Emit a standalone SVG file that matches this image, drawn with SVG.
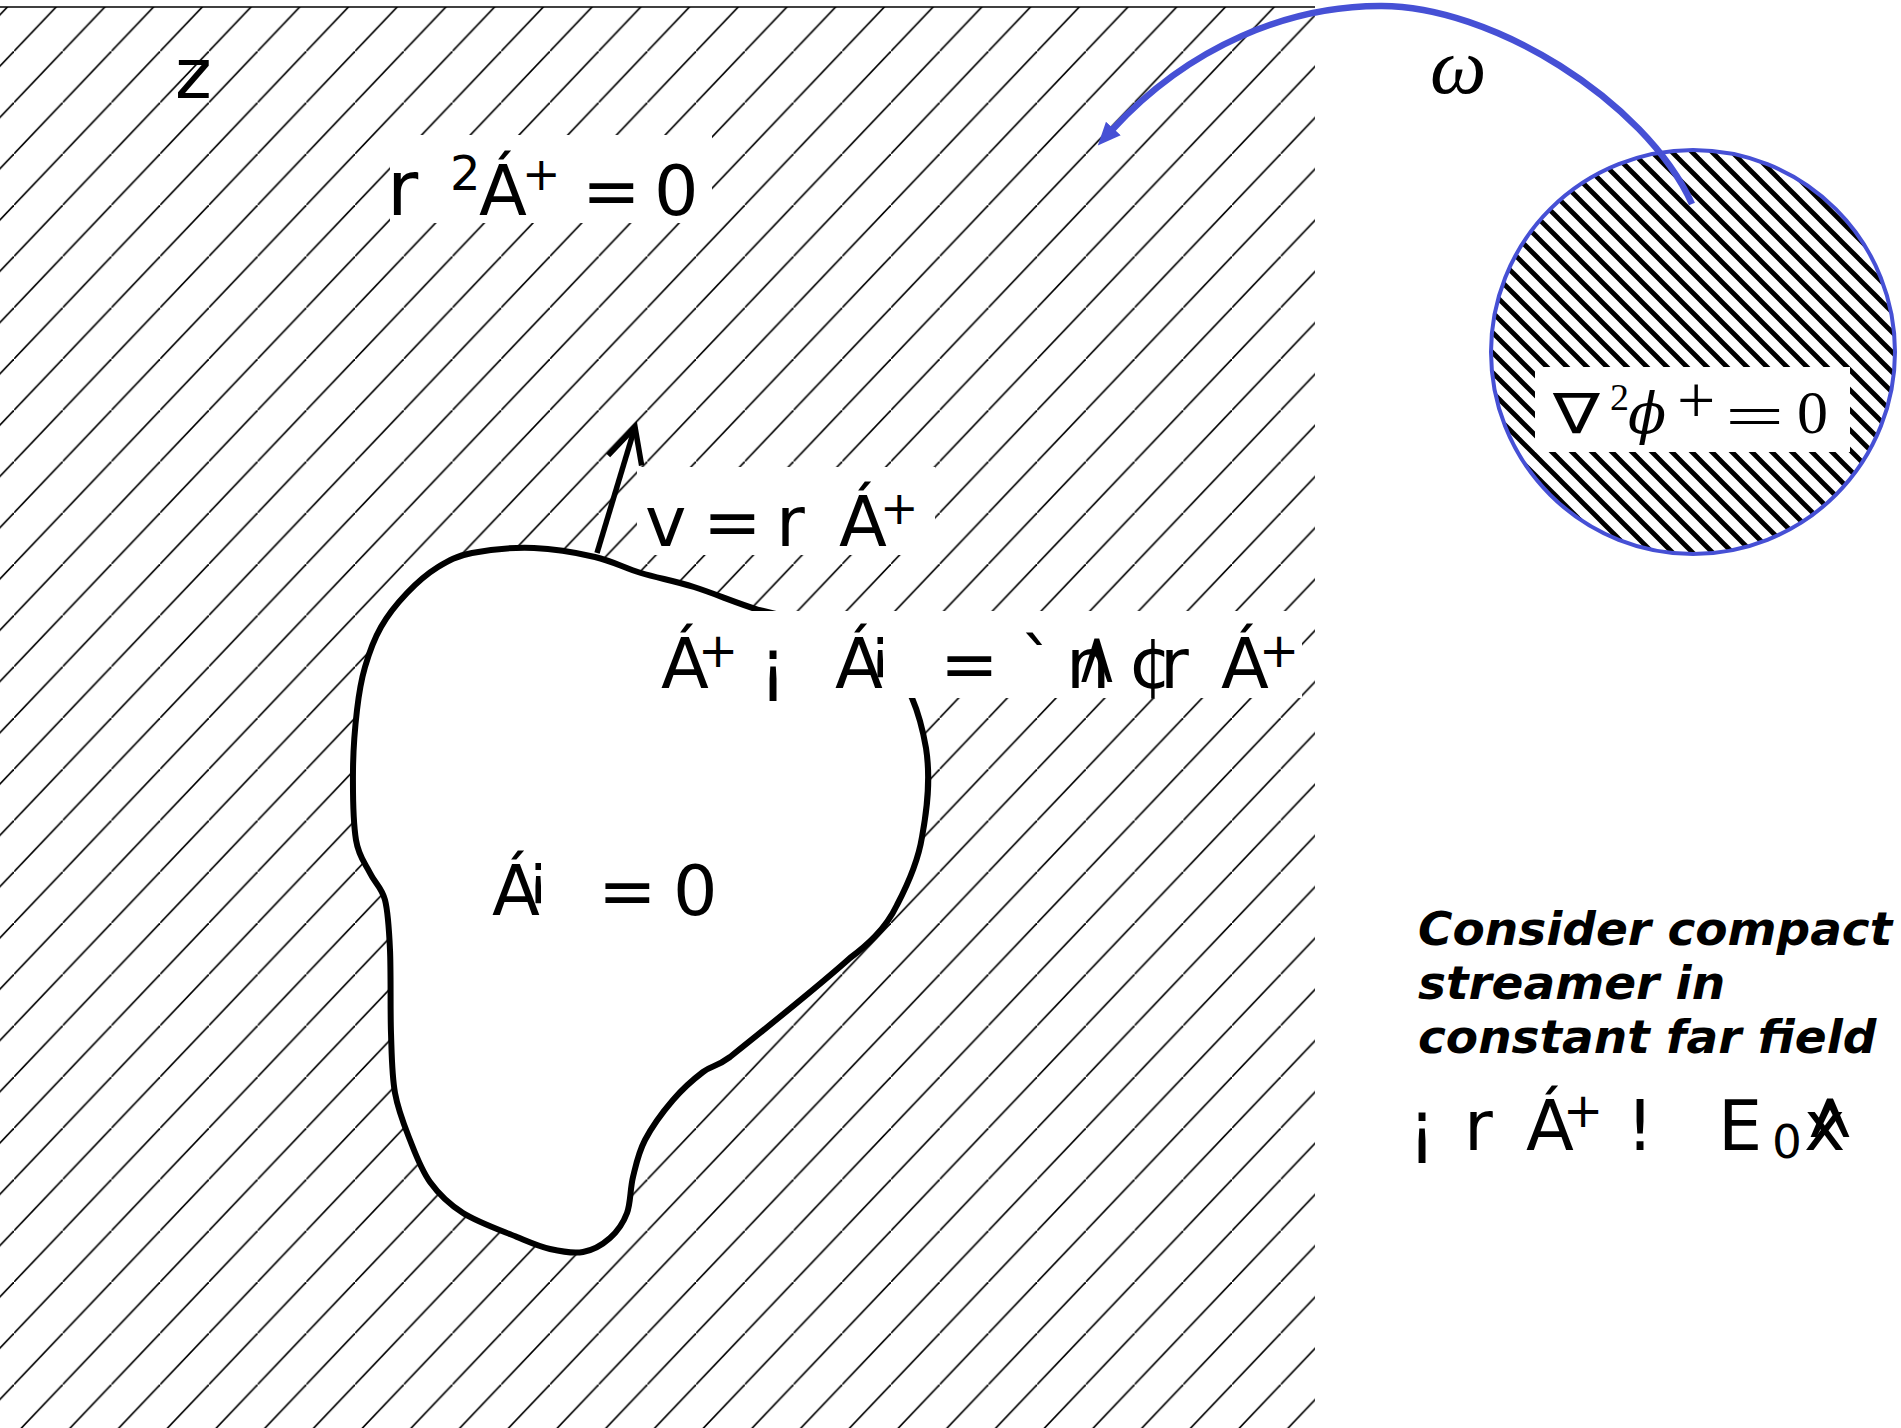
<svg xmlns="http://www.w3.org/2000/svg" width="1901" height="1428" viewBox="0 0 1901 1428">
<defs>
<style>
.m{font-family:"DejaVu Sans",Verdana,sans-serif;font-size:70px;fill:#000}
.cap{font-family:"DejaVu Sans",Verdana,sans-serif;font-weight:bold;font-style:italic;font-size:47px;fill:#000}
.ser{font-family:"Liberation Serif","DejaVu Serif",serif;fill:#000}
.box{fill:#fff;stroke:none}
.blob{fill:#fff;stroke:#000;stroke-width:6;stroke-linejoin:round}
.blue{fill:none;stroke:#4650d5;stroke-width:6.5}
.norm{fill:none;stroke:#000;stroke-width:5.5}
</style>
<pattern id="hatchMain" patternUnits="userSpaceOnUse" x="14" y="0" width="48.72" height="51.28">
<line x1="-24.36" y1="76.92" x2="73.08" y2="-25.64" stroke="#000" stroke-width="1.6"/>
</pattern>
<pattern id="hatchCircle" patternUnits="userSpaceOnUse" x="0" y="0" width="20" height="20">
<line x1="-10" y1="-10" x2="30" y2="30" stroke="#000" stroke-width="4.8"/>
<line x1="-30" y1="-10" x2="10" y2="30" stroke="#000" stroke-width="4.8"/>
<line x1="10" y1="-10" x2="50" y2="30" stroke="#000" stroke-width="4.8"/>
</pattern>
<marker id="arrowBlue" markerUnits="userSpaceOnUse" viewBox="0 0 24 22" markerWidth="24" markerHeight="22" refX="2" refY="11" orient="auto">
<path d="M0 1 L23 11 L0 21 z" fill="#4650d5"/>
</marker>
<marker id="arrowOpen" markerUnits="userSpaceOnUse" viewBox="-42 -22 50 44" markerWidth="50" markerHeight="44" refX="0" refY="0" orient="auto" overflow="visible">
<path d="M-35 -17.5 L0 0 L-35 17.5" fill="none" stroke="#000" stroke-width="5.5" stroke-linejoin="miter"/>
</marker>
</defs>
<rect x="0" y="0" width="1901" height="1428" fill="#fff"/>

<g id="field-region">
<rect x="0" y="7" width="1315" height="1421" fill="url(#hatchMain)"/>
<line x1="0" y1="7" x2="1315" y2="7" stroke="#000" stroke-width="1.6"/>
<text class="m" x="175" y="98" font-size="80">z</text>
</g>

<g id="streamer">
<path class="blob" d="M759 610 C738 603.7 713.7 593.2 694 587 C674.3 580.8 657.5 578 641 573 C624.5 568 612.8 561.2 595 557 C577.2 552.8 554.5 548.7 534 548 C513.5 547.3 488 549.8 472 553 C456 556.2 448.8 560.3 438 567 C427.2 573.7 416.5 583 407 593 C397.5 603 388 614.7 381 627 C374 639.3 369 653.2 365 667 C361 680.8 359 692.8 357 710 C355 727.2 353.2 748.3 353 770 C352.8 791.7 353.2 822.8 356 840 C358.8 857.2 365.2 863 370 873 C374.8 883 381.7 887.2 385 900 C388.3 912.8 389 927.8 390 950 C391 972.2 390.2 1009.2 391 1033 C391.8 1056.8 391.8 1075.2 395 1093 C398.2 1110.8 404.2 1125.2 410 1140 C415.8 1154.8 421.2 1169.8 430 1182 C438.8 1194.2 448.5 1203.8 463 1213 C477.5 1222.2 502.5 1231 517 1237 C531.5 1243 539 1246.5 550 1249 C561 1251.5 573 1253.8 583 1252 C593 1250.2 602.7 1244.5 610 1238 C617.3 1231.5 623.2 1223.2 627 1213 C630.8 1202.8 630 1189.2 633 1177 C636 1164.8 638.3 1152.8 645 1140 C651.7 1127.2 663.3 1111.3 673 1100 C682.7 1088.7 693.5 1079.2 703 1072 C712.5 1064.8 715.5 1067.7 730 1057 C770 1025 820 985 850 958 C866 946 885 930 897 905 C908 884 918 862 922 837 C927 810 931 780 926 748 C922 725 918 712 912 698 C900 670 850 630 759 610 Z"/>
<text class="m"><tspan x="492" y="915">Á</tspan><tspan x="527" y="893" font-size="56">¡</tspan><tspan x="598" y="915">=</tspan><tspan x="673" y="915">0</tspan></text>
</g>

<g id="label-laplace">
<rect class="box" x="390" y="135" width="322" height="88"/>
<text class="m"><tspan x="387" y="215" font-size="76">r</tspan><tspan x="450" y="190" font-size="48">2</tspan><tspan x="479" y="215">Á</tspan><tspan x="522" y="190" font-size="46">+</tspan><tspan x="582" y="215">=</tspan><tspan x="654" y="215">0</tspan></text>
</g>

<g id="label-velocity">
<rect class="box" x="637" y="467" width="298" height="88"/>
<text class="m"><tspan x="645" y="546">v</tspan><tspan x="703" y="546">=</tspan><tspan x="776" y="546">r</tspan><tspan x="839" y="546">Á</tspan><tspan x="880" y="524" font-size="46">+</tspan></text>
</g>

<g id="label-boundary">
<rect class="box" x="650" y="611" width="652" height="87"/>
<text class="m"><tspan x="661" y="688">Á</tspan><tspan x="698" y="667" font-size="48">+</tspan><tspan x="759" y="688">¡</tspan><tspan x="835" y="688">Á</tspan><tspan x="869" y="667" font-size="56">¡</tspan><tspan x="940" y="688">=</tspan><tspan x="1020" y="688">`</tspan><tspan x="1066" y="688">n</tspan><tspan x="1128" y="688">¢</tspan><tspan x="1160" y="688">r</tspan><tspan x="1221" y="688">Á</tspan><tspan x="1259" y="667" font-size="48">+</tspan></text>
<text class="m" transform="translate(1076,755) scale(0.71,2.29)">^</text>
</g>

<g id="far-region">
<clipPath id="farClip"><circle cx="1693" cy="352" r="202"/></clipPath>
<circle cx="1693" cy="352" r="202" fill="#fff"/>
<rect x="1480" y="140" width="430" height="430" fill="url(#hatchCircle)" clip-path="url(#farClip)"/>
<circle cx="1693" cy="352" r="202" fill="none" stroke="#4650d5" stroke-width="4"/>
<rect class="box" x="1535" y="367" width="315" height="85"/>
<text font-family="DejaVu Sans,sans-serif" font-size="56" transform="translate(1553,433) scale(1.25,1)">∇</text>
<text class="ser"><tspan x="1610" y="410" font-size="38">2</tspan><tspan x="1628" y="433" font-family="DejaVu Serif" font-size="56" font-style="italic">ϕ</tspan><tspan x="1677" y="423" font-size="68">+</tspan></text>
<text class="ser" font-size="60" transform="translate(1725,436) scale(1.75,1)">=</text>
<text class="ser" x="1797" y="433" font-size="62">0</text>
</g>

<g id="omega-label">
<text class="ser" x="1430" y="93" font-size="80" font-style="italic">ω</text>
</g>

<g id="connectors">
<path class="blue" d="M1692 204 C1645 100 1490 5 1380 6 C1290 6 1190 45 1112 130" marker-end="url(#arrowBlue)"/>
<path class="norm" d="M597 553 L635 427" marker-end="url(#arrowOpen)"/>
</g>

<g id="caption">
<text class="cap"><tspan x="1418" y="945">Consider compact</tspan><tspan x="1418" y="999">streamer in</tspan><tspan x="1418" y="1053">constant far field</tspan></text>
</g>

<g id="far-field-condition">
<text class="m"><tspan x="1408" y="1150">¡</tspan><tspan x="1464" y="1150">r</tspan><tspan x="1526" y="1150">Á</tspan><tspan x="1563" y="1127" font-size="48">+</tspan><tspan x="1626" y="1150">!</tspan><tspan x="1718" y="1150">E</tspan><tspan x="1772" y="1158" font-size="47">0</tspan><tspan x="1804" y="1150">x</tspan></text>
<text class="m" transform="translate(1804,1201) scale(0.887,2.02)">^</text>
</g>
</svg>
